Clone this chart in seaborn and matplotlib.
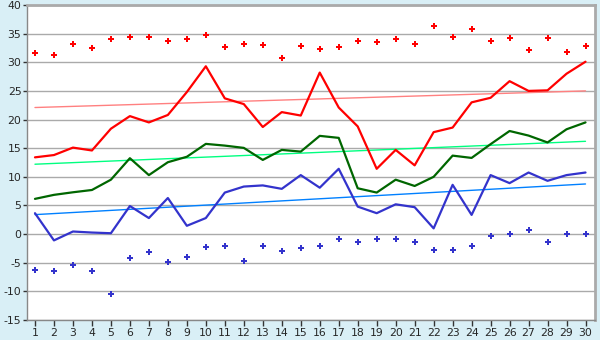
import numpy as np
import pandas as pd
import matplotlib
matplotlib.use('Agg')
import matplotlib.pyplot as plt
import seaborn as sns

days = list(range(1, 31))
max_pts = [31.6, 31.2, 33.2, 32.5, 34.0, 34.4, 34.4, 33.7, 34.0, 34.8,
           32.6, 33.2, 33.0, 30.7, 32.8, 32.3, 32.6, 33.7, 33.5, 34.0,
           33.2, 36.3, 34.4, 35.8, 33.7, 34.2, 32.1, 34.2, 31.8, 32.8]
avg_max = [13.4, 13.8, 15.1, 14.6, 18.4, 20.6, 19.5, 20.8, 24.8, 29.3,
           23.7, 22.7, 18.7, 21.3, 20.7, 28.2, 22.1, 18.8, 11.4, 14.7,
           12.0, 17.8, 18.6, 23.0, 23.8, 26.7, 25.0, 25.1, 28.0, 30.1]
avg_mean = [6.15, 6.85, 7.3, 7.7, 9.5, 13.25, 10.3, 12.55, 13.5, 15.75,
            15.45, 15.05, 12.95, 14.7, 14.4, 17.15, 16.8, 8.0, 7.25, 9.5,
            8.4, 10.0, 13.7, 13.3, 15.7, 18.0, 17.2, 16.0, 18.3, 19.5]
avg_min = [3.65, -1.1, 0.45, 0.27, 0.15, 4.9, 2.8, 6.3, 1.45, 2.8,
           7.25, 8.3, 8.5, 7.9, 10.3, 8.1, 11.4, 4.8, 3.65, 5.2,
           4.7, 1.0, 8.6, 3.35, 10.3, 8.9, 10.75, 9.3, 10.3, 10.75]
min_pts = [-6.3, -6.5, -5.4, -6.5, -10.5, -4.2, -3.2, -4.9, -4.0, -2.3,
           -2.1, -4.7, -2.1, -3.0, -2.5, -2.1, -0.9, -1.4, -0.9, -0.9,
           -1.4, -2.8, -2.8, -2.1, -0.4, 0.0, 0.7, -1.4, 0.0, 0.0]

# normal (long-term) lines, start and end of month
norm_days = [1, 30]
norm_max = [22.1, 25.0]
norm_mean = [12.2, 16.2]
norm_min = [3.4, 8.75]

yticks = list(range(-15, 41, 5))

df = pd.DataFrame({'day': days, 'max_pts': max_pts, 'avg_max': avg_max,
                   'avg_mean': avg_mean, 'avg_min': avg_min, 'min_pts': min_pts})
norms = pd.DataFrame({'day': norm_days, 'max': norm_max,
                      'mean': norm_mean, 'min': norm_min})

sns.set_style('white')
plt.rcParams['font.family'] = ['DejaVu Sans']
plt.rcParams['axes.unicode_minus'] = False

bg = '#d9eff6'
fig = plt.figure(figsize=(6, 3.4), dpi=100, facecolor=bg)
ax = fig.add_axes([27 / 600, 20 / 340, 568 / 600, 315 / 340])
ax.set_facecolor('white')

for y in yticks:
    ax.axhline(y, color='#aaaaaa', lw=1, zorder=0)

sns.lineplot(data=norms, x='day', y='max', color='#ff8080', lw=1, ax=ax)
sns.lineplot(data=norms, x='day', y='mean', color='#00ff80', lw=1, ax=ax)
sns.lineplot(data=norms, x='day', y='min', color='#0080ff', lw=1, ax=ax)

sns.lineplot(data=df, x='day', y='avg_max', color='#ff0000', lw=1.6, ax=ax)
sns.lineplot(data=df, x='day', y='avg_mean', color='#006600', lw=1.6, ax=ax)
sns.lineplot(data=df, x='day', y='avg_min', color='#3333cc', lw=1.6, ax=ax)

sns.scatterplot(data=df, x='day', y='max_pts', color='#ff0000', marker='P',
                s=20, linewidth=0, ax=ax)
sns.scatterplot(data=df, x='day', y='min_pts', color='#3333cc', marker='P',
                s=20, linewidth=0, ax=ax)

ax.set_xlim(0.58, 30.5)
ax.set_ylim(-15, 40)
ax.set_xticks(days)
ax.set_yticks(yticks)
ax.set_xlabel('')
ax.set_ylabel('')
ax.tick_params(axis='both', labelsize=7.8, length=4, width=1, color='#333333',
               pad=2, direction='out')
ax.tick_params(axis='y', length=3, pad=1)
ax.xaxis.set_ticks_position('bottom')
ax.yaxis.set_ticks_position('left')
for side in ['left', 'bottom']:
    ax.spines[side].set_color('#888888')
    ax.spines[side].set_linewidth(1)
for side in ['top', 'right']:
    ax.spines[side].set_color('#aaaaaa')
    ax.spines[side].set_linewidth(2)

fig.savefig('out.png', dpi=100, facecolor=bg)
